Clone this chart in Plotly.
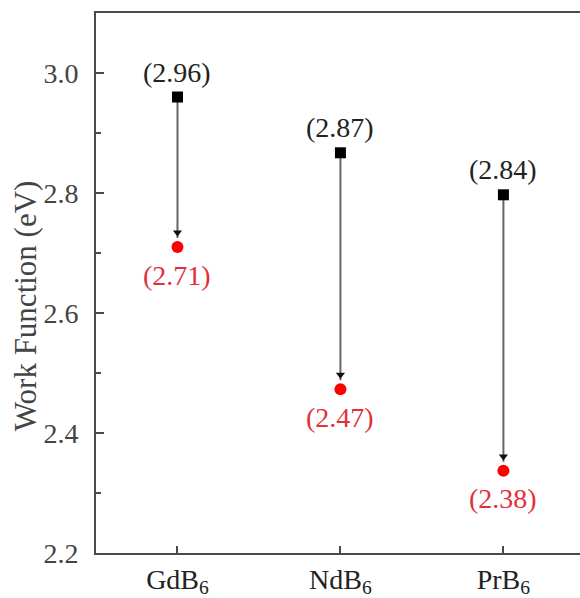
import plotly.graph_objects as go

categories = ["GdB<sub>6</sub>", "NdB<sub>6</sub>", "PrB<sub>6</sub>"]
x_pos = [0, 1, 2]
before_vals = [2.96, 2.867, 2.797]
after_vals = [2.71, 2.473, 2.337]
before_labels = ["(2.96)", "(2.87)", "(2.84)"]
after_labels = ["(2.71)", "(2.47)", "(2.38)"]
y_title = "Work Function (eV)"

FONT = "Liberation Serif"
AX = "#4a4a4a"
FS = 28

fig = go.Figure()

# arrow shafts
for xi, b, a in zip(x_pos, before_vals, after_vals):
    fig.add_trace(go.Scatter(x=[xi, xi], y=[b, a + 0.015], mode="lines",
                             line=dict(color="#666666", width=2), showlegend=False,
                             hoverinfo="skip"))
# arrow heads
fig.add_trace(go.Scatter(x=x_pos, y=[a + 0.024 for a in after_vals], mode="markers",
                         marker=dict(symbol="triangle-down", size=8, color="#111111"),
                         showlegend=False, hoverinfo="skip"))
# points
fig.add_trace(go.Scatter(x=x_pos, y=before_vals, mode="markers",
                         marker=dict(symbol="square", size=11, color="black"),
                         showlegend=False))
fig.add_trace(go.Scatter(x=x_pos, y=after_vals, mode="markers",
                         marker=dict(symbol="circle", size=12, color="#ff0000"),
                         showlegend=False))

for xi, b, t in zip(x_pos, before_vals, before_labels):
    fig.add_annotation(x=xi, y=b, text=t, showarrow=False, yshift=25,
                       font=dict(family=FONT, size=FS, color="#222222"))
for xi, a, t in zip(x_pos, after_vals, after_labels):
    fig.add_annotation(x=xi, y=a, text=t, showarrow=False, yshift=-28,
                       font=dict(family=FONT, size=FS, color="#e0303a"))

# y-axis title (placed as annotation to match the reference offset)
fig.add_annotation(xref="paper", yref="paper", x=0, y=0.457, xshift=-71,
                   text=y_title, textangle=-90, showarrow=False,
                   xanchor="center", yanchor="middle",
                   font=dict(family=FONT, size=31, color="#444444"))

fig.update_layout(
    width=580, height=598,
    margin=dict(l=96, r=0, t=13, b=45),
    plot_bgcolor="white", paper_bgcolor="white",
    font=dict(family=FONT, size=FS, color="#333333"),
)
fig.update_xaxes(
    range=[-0.5, 2.47], tickvals=x_pos, ticktext=categories,
    showline=True, linecolor=AX, linewidth=2, mirror=True,
    ticks="inside", ticklen=7, tickwidth=2, tickcolor=AX,
    showgrid=False, zeroline=False, ticklabelstandoff=0,
    tickfont=dict(family=FONT, size=FS, color="#222222"),
)
fig.update_yaxes(
    range=[2.2, 3.1], tick0=2.2, dtick=0.2, tickformat=".1f",
    showline=True, linecolor=AX, linewidth=2, mirror=False,
    ticks="inside", ticklen=8, tickwidth=2, tickcolor=AX,
    minor=dict(ticks="inside", ticklen=5, tickwidth=2, tickcolor=AX, dtick=0.1, tick0=2.2),
    showgrid=False, zeroline=False, ticklabelstandoff=10,
    tickfont=dict(family=FONT, size=FS, color="#444444"),
)

fig.write_html("out.html")
